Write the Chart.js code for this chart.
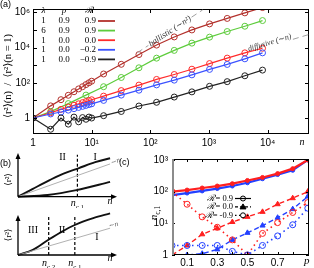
<!DOCTYPE html>
<html>
<head>
<meta charset="utf-8">
<script src="https://cdn.jsdelivr.net/npm/chart.js@4.4.0/dist/chart.umd.min.js"></script>
<style>
  html, body { margin: 0; padding: 0; background: #fff; }
  #wrap { position: relative; width: 314px; height: 268px; overflow: hidden; }
  canvas { position: absolute; }
</style>
</head>
<body>
<div id="wrap">
  <canvas id="ca" width="314" height="150" style="left:0;top:0"></canvas>
  <canvas id="cb1" width="135" height="58" style="left:0;top:150px"></canvas>
  <canvas id="cb2" width="135" height="60" style="left:0;top:208px"></canvas>
  <canvas id="cc" width="174" height="120" style="left:140px;top:148px"></canvas>
</div>
<script>
// ---- panel (a): <r^2>(n) / <r^2>(n=1) against n ----
const nLin = [1, 2, 3, 4, 5, 6, 7, 8, 9, 10, 16, 32, 64, 128, 256, 512, 1024, 2048, 4096, 8192];
const nPow = [1, 2, 4, 8, 16, 32, 64, 128, 256, 512, 1024, 2048, 4096, 8192];
const msdL1p9R9 = [1, 4.9, 11, 19.5, 31, 45, 60, 79, 100, 123, 316, 1120, 4000, 13800, 40000, 100000, 220000, 450000, 930000, 1860000];
const msdL6p9R9 = [1, 2.3, 6.6, 20, 60, 200, 710, 2500, 6900, 17800, 39000, 81000, 162000, 340000];
const msdL1p0R0 = [1, 2, 3.1, 4.2, 5.3, 6.4, 7.5, 8.6, 9.8, 10.9, 17.5, 36, 74, 155, 295, 590, 1230, 2510, 5000, 9100];
const msdL1p0Rm2 = [1, 1.7, 2.2, 2.8, 3.4, 4.0, 4.6, 5.2, 5.8, 6.4, 10, 20, 38, 76, 141, 282, 575, 1100, 2290, 5000];
const msdL1p0Rm9 = [1, 0.23, 1.0, 0.45, 1.13, 0.61, 1.06, 0.85, 1.13, 1.0, 1.36, 2.36, 4.8, 7.8, 15.5, 30.5, 63, 116, 250, 525];
const legendRowsA = [['1', '0.9', '0.9'], ['6', '0.9', '0.9'], ['1', '0.0', '0.0'], ['1', '0.0', '\u22120.2'], ['1', '0.0', '\u22120.9']];
const xTicksA = [1, 10, 100, 1000, 10000];
const yTicksA = [1, 10, 100, 1e3, 1e4, 1e5, 1e6];
// guide lines (end points)
const ballisticN = [60, 780];
const ballisticV = [5100, 1360000];
const diffusiveN = [27000, 50800];
const diffusiveV = [29300, 55200];

// ---- panel (c): n_c,1 against p ----
const pVals = [0, 0.1, 0.2, 0.3, 0.4, 0.5, 0.6, 0.7, 0.8, 0.9];
const ncRedR9 = [100, 112, 130, 150, 178, 225, 280, 370, 530, 1000];
const ncBlueR9 = [78, 90, 105, 125, 150, 190, 255, 345, 470, 1000];
const ncRedR0 = [1, 2, 4.5, 7, 11, 16, 23, 40, 62, 100];
const ncBlueR0 = [1, 1, 1.1, 1.5, 3, 5, 8.5, 15, 28, 70];
const ncRedRm9 = [100, 40, 16, 7.5, 3, 1, 4.8, 10.5, 22, 45];
const ncBlueRm9 = [2, 2, 2, 2, 1.3, 1, 2, 4, 9, 30];
const xTicksC = [0, 0.1, 0.2, 0.3, 0.4, 0.5, 0.6, 0.7, 0.8, 0.9];
const yTicksC = [1, 10, 100, 1000];

// ---- panel (b): schematic curves ----
const upFastX = [0, 0.15, 0.32, 0.46, 0.61, 0.78, 0.93];
const upFastY = [0, 0.18, 0.38, 0.53, 0.65, 0.79, 0.88];
const upSlowX = [0, 0.3, 0.59, 0.93];
const upSlowY = [0, 0.04, 0.15, 0.34];
const lowX = [0, 0.15, 0.3, 0.44, 0.574, 0.76, 0.93];
const lowY = [0, 0.13, 0.37, 0.58, 0.75, 0.92, 1.04];

Chart.defaults.font.family = "'Liberation Sans', Arial, sans-serif";
Chart.defaults.font.size = 10;
Chart.defaults.color = '#000';
Chart.defaults.animation = false;
Chart.defaults.plugins.legend.display = false;
Chart.defaults.plugins.tooltip.enabled = false;

const SERIF = "'Liberation Serif', 'DejaVu Serif', serif";
const sup = ['\u2070', '\u00b9', '\u00b2', '\u00b3', '\u2074', '\u2075', '\u2076'];
const pts = (xs, ys) => xs.map((x, i) => ({ x: x, y: ys[i] }));
const decade = v => {
  const e = Math.round(Math.log10(v));
  return e === 0 ? '1' : '10' + sup[e];
};

function drawFrame(chart, xTicks, yTicks, len) {
  const { ctx, chartArea: a, scales: { x, y } } = chart;
  ctx.save();
  ctx.strokeStyle = '#000';
  ctx.lineWidth = 1;
  ctx.beginPath();
  xTicks.forEach(v => {
    const px = Math.round(x.getPixelForValue(v)) + 0.5;
    ctx.moveTo(px, a.bottom); ctx.lineTo(px, a.bottom - len);
    ctx.moveTo(px, a.top); ctx.lineTo(px, a.top + len);
  });
  yTicks.forEach(v => {
    const py = Math.round(y.getPixelForValue(v)) + 0.5;
    ctx.moveTo(a.left, py); ctx.lineTo(a.left + len, py);
    ctx.moveTo(a.right, py); ctx.lineTo(a.right - len, py);
  });
  ctx.stroke();
  ctx.strokeRect(a.left + 0.5, a.top + 0.5, a.width - 1, a.height - 1);
  ctx.restore();
}

// italic symbol with a small roman subscript, centred on x
function subText(ctx, x, y, main, sub, size) {
  ctx.font = `italic ${size}px ${SERIF}`;
  const w1 = ctx.measureText(main).width;
  ctx.font = `${size * 0.7}px ${SERIF}`;
  const w2 = ctx.measureText(sub).width;
  const sx = x - (w1 + w2) / 2;
  ctx.textAlign = 'left';
  ctx.textBaseline = 'alphabetic';
  ctx.font = `italic ${size}px ${SERIF}`;
  ctx.fillText(main, sx, y);
  ctx.font = `${size * 0.7}px ${SERIF}`;
  ctx.fillText(sub, sx + w1, y + size * 0.28);
}

// ======== panel (a) ========
const colA = ['#b3312c', '#5dcc3c', '#ff2b2b', '#3b52ff', '#222222'];
function msd(ns, vals, color) {
  return {
    data: pts(ns, vals), showLine: true, borderColor: color, borderWidth: 1.2,
    pointStyle: 'circle', pointRadius: 3, pointBorderWidth: 1,
    pointBorderColor: color, pointBackgroundColor: 'rgba(0,0,0,0)'
  };
}

function guide(chart, ns, vs, gap0, gap1) {
  const { ctx, scales: { x, y } } = chart;
  const x0 = x.getPixelForValue(ns[0]), y0 = y.getPixelForValue(vs[0]);
  const x1 = x.getPixelForValue(ns[1]), y1 = y.getPixelForValue(vs[1]);
  const at = t => [x0 + (x1 - x0) * t, y0 + (y1 - y0) * t];
  ctx.save();
  ctx.strokeStyle = '#a0a0a0';
  ctx.lineWidth = 1;
  ctx.setLineDash([6, 4]);
  ctx.beginPath();
  if (gap0 > 0) { ctx.moveTo(x0, y0); ctx.lineTo(...at(gap0)); }
  ctx.moveTo(...at(gap1)); ctx.lineTo(x1, y1);
  ctx.stroke();
  ctx.restore();
  return { ang: Math.atan2(y1 - y0, x1 - x0), at: at };
}

new Chart(document.getElementById('ca'), {
  type: 'scatter',
  data: {
    datasets: [
      msd(nLin, msdL1p0Rm9, colA[4]),
      msd(nLin, msdL1p0Rm2, colA[3]),
      msd(nLin, msdL1p0R0, colA[2]),
      msd(nPow, msdL6p9R9, colA[1]),
      msd(nLin, msdL1p9R9, colA[0])
    ]
  },
  options: {
    responsive: false,
    layout: { padding: { top: 1, right: 1, left: 0, bottom: 0 } },
    scales: {
      x: {
        type: 'logarithmic', min: 1, max: 50800,
        grid: { display: false, drawTicks: false }, border: { display: false },
        afterBuildTicks: s => { s.ticks = xTicksA.map(v => ({ value: v })); },
        afterFit: s => { s.height = 16; },
        ticks: { padding: 3, autoSkip: false, maxRotation: 0, callback: v => decade(v) }
      },
      y: {
        type: 'logarithmic', min: 0.124, max: 1.54e6,
        grid: { display: false, drawTicks: false }, border: { display: false },
        afterBuildTicks: s => { s.ticks = yTicksA.map(v => ({ value: v })); },
        afterFit: s => { s.width = 33; },
        ticks: {
          padding: 3, autoSkip: false,
          callback: v => (Math.round(Math.log10(v)) % 2 === 0 ? decade(v) : '')
        }
      }
    }
  },
  plugins: [{
    id: 'panelA',
    afterDraw(chart) {
      const ctx = chart.ctx;
      drawFrame(chart, xTicksA, yTicksA, 4);

      // guide lines with their labels
      ctx.save();
      ctx.fillStyle = '#333';
      const b = guide(chart, ballisticN, ballisticV, 0.17, 0.83);
      let [tx, ty] = b.at(0.5);
      ctx.translate(tx, ty); ctx.rotate(b.ang);
      ctx.font = `italic 8.5px ${SERIF}`;
      ctx.textAlign = 'center'; ctx.textBaseline = 'middle';
      ctx.fillText('ballistic (\u223cn\u00b2)', 0, 0);
      ctx.restore();

      ctx.save();
      ctx.fillStyle = '#333';
      const d = guide(chart, diffusiveN, diffusiveV, 0, 0);
      [tx, ty] = d.at(0);
      ctx.translate(tx - 1, ty - 1); ctx.rotate(d.ang);
      ctx.font = `italic 8px ${SERIF}`;
      ctx.textAlign = 'right'; ctx.textBaseline = 'alphabetic';
      ctx.fillText('diffusive (\u223cn)', 0, 0);
      ctx.restore();

      // legend table
      ctx.save();
      ctx.fillStyle = '#000';
      ctx.textBaseline = 'middle';
      ctx.font = `italic 9px ${SERIF}`;
      ctx.textAlign = 'center';
      ctx.fillText('\u03bb', 43.5, 11);
      ctx.fillText('p', 64, 11);
      ctx.fillText('\u211b', 89, 11);
      ctx.font = `9px ${SERIF}`;
      legendRowsA.forEach((r, i) => {
        const yy = 21 + i * 9.6;
        ctx.textAlign = 'center';
        ctx.fillText(r[0], 43.5, yy);
        ctx.fillText(r[1], 64, yy);
        ctx.textAlign = 'right';
        ctx.fillText(r[2], 96, yy);
        ctx.strokeStyle = colA[i];
        ctx.lineWidth = 1.8;
        ctx.beginPath(); ctx.moveTo(98, yy); ctx.lineTo(115, yy); ctx.stroke();
      });

      // axis names and panel tag
      ctx.font = `italic 10px ${SERIF}`;
      ctx.textAlign = 'center';
      ctx.fillText('n', 302, 142);
      ctx.font = "9px 'Liberation Sans', sans-serif";
      ctx.textAlign = 'left';
      ctx.fillText('(a)', 0, 5);
      ctx.translate(8, 76);
      ctx.rotate(-Math.PI / 2);
      ctx.textAlign = 'center';
      ctx.font = `10.5px ${SERIF}`;
      ctx.fillText('\u27e8r\u00b2\u27e9(n)  /  \u27e8r\u00b2\u27e9(n = 1)', 0, 0);
      ctx.restore();
    }
  }]
});

// ======== panel (b) ========
function arrowAxes(chart, topY) {
  const { ctx, scales: { x, y } } = chart;
  const ox = x.getPixelForValue(0), oy = y.getPixelForValue(0);
  const ex = x.getPixelForValue(1), ey = y.getPixelForValue(topY);
  ctx.save();
  ctx.strokeStyle = '#000'; ctx.fillStyle = '#000'; ctx.lineWidth = 1.3;
  ctx.beginPath(); ctx.moveTo(ox, oy); ctx.lineTo(ex - 3, oy); ctx.moveTo(ox, oy); ctx.lineTo(ox, ey + 3); ctx.stroke();
  ctx.beginPath(); ctx.moveTo(ex, oy); ctx.lineTo(ex - 6, oy - 2.5); ctx.lineTo(ex - 6, oy + 2.5); ctx.closePath(); ctx.fill();
  ctx.beginPath(); ctx.moveTo(ox, ey); ctx.lineTo(ox - 2.5, ey + 6); ctx.lineTo(ox + 2.5, ey + 6); ctx.closePath(); ctx.fill();
  ctx.restore();
}

function sketch(id, padding, curves, guideEnd, cuts, label) {
  const sets = [{ data: [{ x: 0, y: 0 }, guideEnd], showLine: true, borderColor: '#a8a8a8', borderWidth: 0.9, pointRadius: 0 }];
  curves.forEach(c => sets.push({
    data: c, showLine: true, borderColor: '#111', borderWidth: 1.9, pointRadius: 0,
    cubicInterpolationMode: 'monotone', clip: false
  }));
  cuts.forEach(cx => sets.push({
    data: [{ x: cx, y: 0 }, { x: cx, y: 0.96 }], showLine: true, borderColor: '#000',
    borderWidth: 1.2, borderDash: [3, 2], pointRadius: 0, clip: false
  }));
  return new Chart(document.getElementById(id), {
    type: 'scatter',
    data: { datasets: sets },
    options: {
      responsive: false,
      layout: { padding: padding },
      scales: {
        x: { type: 'linear', min: 0, max: 1, display: false },
        y: { type: 'linear', min: 0, max: 1, display: false }
      }
    },
    plugins: [{ id: 'sk' + id, afterDraw: label }]
  });
}

function roman(ctx, t, x, y) {
  ctx.font = `10px ${SERIF}`;
  ctx.textAlign = 'center'; ctx.textBaseline = 'middle';
  ctx.fillText(t, x, y);
}
function tilted(ctx, t, x, y, ang, size, color, italic) {
  ctx.save();
  ctx.translate(x, y); ctx.rotate(ang);
  ctx.fillStyle = color;
  ctx.font = `${italic ? 'italic ' : ''}${size}px ${SERIF}`;
  ctx.textAlign = 'center'; ctx.textBaseline = 'middle';
  ctx.fillText(t, 0, 0);
  ctx.restore();
}

sketch('cb1', { left: 18, right: 18, top: 3, bottom: 11.3 },
  [pts(upFastX, upFastY), pts(upSlowX, upSlowY)], { x: 0.93, y: 0.75 }, [0.6],
  chart => {
    const { ctx, scales: { x, y } } = chart;
    arrowAxes(chart, 1);
    ctx.save();
    ctx.fillStyle = '#000';
    roman(ctx, 'II', x.getPixelForValue(0.45), y.getPixelForValue(0.9));
    roman(ctx, 'I', x.getPixelForValue(0.78), y.getPixelForValue(0.9));
    subText(ctx, x.getPixelForValue(0.6), 56, 'n', 'c,1', 10);
    ctx.font = `italic 10px ${SERIF}`; ctx.textAlign = 'center';
    ctx.fillText('n', x.getPixelForValue(0.93), 54);
    tilted(ctx, '\u223cn', 115.5, 11.5, -0.36, 7, '#555', true);
    tilted(ctx, '\u27e8r\u00b2\u27e9', 8.5, 29.5, -Math.PI / 2, 9, '#000', false);
    ctx.font = "9px 'Liberation Sans', sans-serif";
    ctx.textAlign = 'left'; ctx.textBaseline = 'middle';
    ctx.fillText('(b)', 0, 14);
    ctx.fillText('(c)', 119, 13);
    ctx.restore();
  });

sketch('cb2', { left: 18, right: 18, top: 7, bottom: 13 },
  [pts(lowX, lowY)], { x: 0.93, y: 0.67 }, [0.31, 0.574],
  chart => {
    const { ctx, scales: { x, y } } = chart;
    arrowAxes(chart, 1);
    ctx.save();
    ctx.fillStyle = '#000';
    roman(ctx, 'III', 33, 22);
    roman(ctx, 'II', 62, 22);
    roman(ctx, 'I', 97, 29);
    subText(ctx, x.getPixelForValue(0.31), 58, 'n', 'c,2', 10);
    subText(ctx, x.getPixelForValue(0.574), 58, 'n', 'c,1', 10);
    ctx.font = `italic 10px ${SERIF}`; ctx.textAlign = 'center';
    ctx.fillText('n', x.getPixelForValue(0.93), 53);
    tilted(ctx, '\u223cn', 113.5, 17, -0.29, 7, '#555', true);
    tilted(ctx, '\u27e8r\u00b2\u27e9', 8.5, 27, -Math.PI / 2, 9, '#000', false);
    ctx.restore();
  });

// ======== panel (c) ========
const RED = '#ff1f1f', BLUE = '#2340ff';
function ncSolid(vals, color) {
  return { data: pts(pVals, vals), showLine: true, borderColor: color, borderWidth: 2.2,
    pointStyle: 'circle', pointRadius: 2, pointBorderWidth: 1, pointBorderColor: color, pointBackgroundColor: color };
}
function ncDashed(vals, color) {
  return { data: pts(pVals, vals), showLine: true, borderColor: color, borderWidth: 1.4, borderDash: [5, 3],
    pointStyle: 'triangle', pointRadius: 3, pointBorderWidth: 1, pointBorderColor: color, pointBackgroundColor: color };
}
function ncDotted(vals, color) {
  return { data: pts(pVals, vals), showLine: true, borderColor: color, borderWidth: 1.6, borderDash: [1.5, 3.5],
    pointStyle: 'circle', pointRadius: 3, pointBorderWidth: 1, pointBorderColor: color, pointBackgroundColor: 'rgba(0,0,0,0)' };
}

new Chart(document.getElementById('cc'), {
  type: 'scatter',
  data: {
    datasets: [
      ncDotted(ncBlueRm9, BLUE), ncDotted(ncRedRm9, RED),
      ncDashed(ncBlueR0, BLUE), ncDashed(ncRedR0, RED),
      ncSolid(ncRedR9, RED), ncSolid(ncBlueR9, BLUE)
    ]
  },
  options: {
    responsive: false,
    layout: { padding: { top: 11, right: 1, left: 0, bottom: 0 } },
    scales: {
      x: {
        type: 'linear', min: 0, max: 0.908,
        grid: { display: false, drawTicks: false }, border: { display: false },
        afterBuildTicks: s => { s.ticks = xTicksC.map(v => ({ value: v })); },
        afterFit: s => { s.height = 13; },
        ticks: { padding: 2, autoSkip: false, maxRotation: 0,
          callback: (v, i) => (i % 2 === 1 && i < 9 ? v.toFixed(1) : '') }
      },
      y: {
        type: 'logarithmic', min: 1, max: 1070,
        grid: { display: false, drawTicks: false }, border: { display: false },
        afterBuildTicks: s => { s.ticks = yTicksC.map(v => ({ value: v })); },
        afterFit: s => { s.width = 32; },
        ticks: { padding: 4, autoSkip: false, callback: v => decade(v) }
      }
    }
  },
  plugins: [{
    id: 'panelC',
    afterDraw(chart) {
      const { ctx, chartArea: a } = chart;
      drawFrame(chart, xTicksC, yTicksC, 3);
      ctx.save();
      ctx.strokeStyle = '#8c8c8c'; ctx.lineWidth = 2;
      ctx.beginPath(); ctx.moveTo(a.left + 1, a.top); ctx.lineTo(a.left + 1, a.bottom); ctx.stroke();

      // legend
      const rows = [['0.9', 'circle', [], true], ['0.0', 'triangle', [3, 2], true], ['-0.9', 'circle', [1.5, 2.5], false]];
      rows.forEach((r, i) => {
        const yy = 50.5 + i * 8.4;
        ctx.fillStyle = '#000';
        ctx.textBaseline = 'middle';
        ctx.textAlign = 'right';
        ctx.font = `8.5px ${SERIF}`;
        const w = ctx.measureText('= ' + r[0]).width;
        ctx.fillText('= ' + r[0], 93, yy);
        ctx.font = `italic 9px ${SERIF}`;
        ctx.fillText('\u211b', 93 - w, yy);
        ctx.strokeStyle = '#000'; ctx.lineWidth = 1.2;
        ctx.setLineDash(r[2]);
        ctx.beginPath(); ctx.moveTo(95, yy); ctx.lineTo(111, yy); ctx.stroke();
        ctx.setLineDash([]);
        ctx.lineWidth = 1;
        ctx.beginPath();
        if (r[1] === 'triangle') {
          ctx.moveTo(103, yy - 3); ctx.lineTo(106, yy + 2); ctx.lineTo(100, yy + 2); ctx.closePath();
        } else {
          ctx.arc(103, yy, 2.5, 0, Math.PI * 2);
        }
        if (r[3] && r[1] === 'triangle') ctx.fill();
        ctx.fillStyle = '#fff';
        if (!r[3]) ctx.fill();
        ctx.stroke();
      });

      ctx.fillStyle = '#000';
      ctx.font = `italic 11px ${SERIF}`;
      ctx.textAlign = 'center'; ctx.textBaseline = 'middle';
      ctx.fillText('p', 166.7, 113);
      ctx.translate(14, 65);
      ctx.rotate(-Math.PI / 2);
      subText(ctx, 0, 3, 'n', 'c,1', 11);
      ctx.restore();
    }
  }]
});
</script>
</body>
</html>
